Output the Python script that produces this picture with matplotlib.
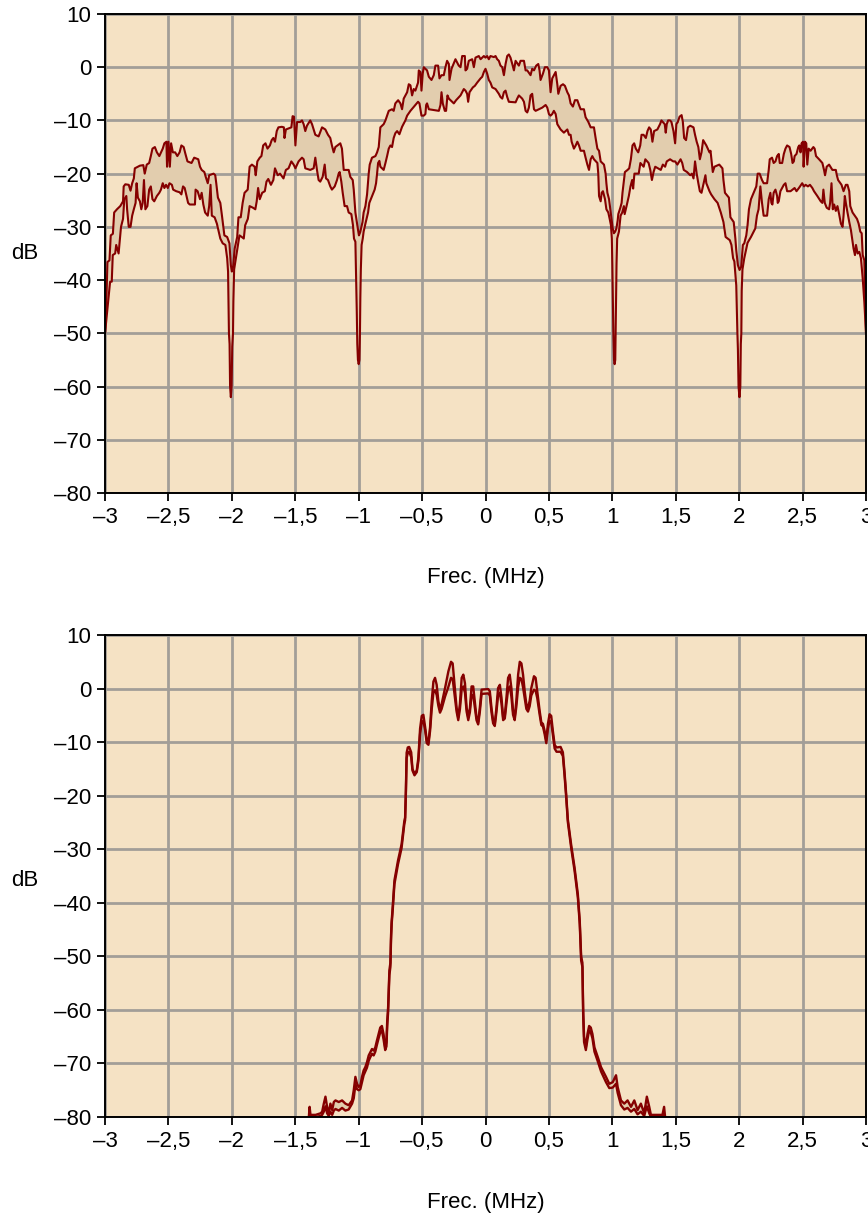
import matplotlib
matplotlib.use("Agg")
import matplotlib.pyplot as plt
import numpy as np

plt.rcParams["font.family"] = ["Liberation Sans", "DejaVu Sans"]

# ---- top panel: upper / lower envelope (MHz, dB) ----
top_upper = [
    (-3.000, -50.0), (-2.992, -46.0), (-2.981, -36.6), (-2.965, -36.3), (-2.955, -31.6),
    (-2.938, -31.3), (-2.928, -27.3), (-2.906, -26.7), (-2.880, -26.1), (-2.858, -25.2),
    (-2.853, -22.4), (-2.840, -22.0), (-2.813, -22.1), (-2.799, -23.2), (-2.786, -21.8),
    (-2.773, -20.9), (-2.765, -19.0), (-2.725, -18.5), (-2.698, -18.4), (-2.687, -20.0),
    (-2.671, -18.3), (-2.652, -18.0), (-2.639, -16.7), (-2.626, -15.3), (-2.607, -15.0),
    (-2.591, -16.0), (-2.572, -16.7), (-2.545, -15.3), (-2.532, -14.3), (-2.516, -14.0),
    (-2.511, -18.7), (-2.500, -14.0), (-2.489, -18.7), (-2.479, -14.3), (-2.465, -16.0),
    (-2.447, -16.0), (-2.430, -16.7), (-2.412, -16.0), (-2.398, -14.7), (-2.380, -15.0),
    (-2.366, -16.3), (-2.350, -17.7), (-2.318, -18.0), (-2.297, -17.0), (-2.265, -17.3),
    (-2.251, -18.7), (-2.238, -19.3), (-2.217, -19.7), (-2.206, -20.6), (-2.190, -21.8),
    (-2.179, -20.3), (-2.144, -20.0), (-2.131, -20.3), (-2.123, -21.8), (-2.110, -24.5),
    (-2.091, -25.5), (-2.078, -27.9), (-2.059, -31.6), (-2.037, -31.9), (-2.019, -33.1),
    (-2.008, -37.2), (-2.000, -38.4), (-1.990, -37.5), (-1.978, -34.1), (-1.958, -31.9),
    (-1.948, -28.2), (-1.930, -28.2), (-1.915, -25.5), (-1.900, -23.6), (-1.875, -23.0),
    (-1.860, -18.7), (-1.842, -18.3), (-1.820, -18.7), (-1.812, -20.3), (-1.799, -17.7),
    (-1.780, -17.0), (-1.767, -16.7), (-1.753, -14.7), (-1.735, -14.3), (-1.719, -15.3),
    (-1.700, -14.7), (-1.686, -13.7), (-1.673, -13.3), (-1.660, -14.0), (-1.646, -12.0),
    (-1.633, -11.3), (-1.606, -11.2), (-1.590, -11.3), (-1.585, -13.3), (-1.574, -11.7),
    (-1.531, -11.3), (-1.521, -9.2), (-1.510, -9.3), (-1.499, -14.7), (-1.486, -10.3),
    (-1.461, -10.3), (-1.447, -10.0), (-1.434, -10.7), (-1.421, -12.0), (-1.408, -11.0),
    (-1.382, -10.0), (-1.368, -10.7), (-1.355, -11.7), (-1.342, -12.7), (-1.316, -13.0),
    (-1.289, -11.3), (-1.263, -11.7), (-1.242, -12.7), (-1.224, -13.3), (-1.211, -14.7),
    (-1.197, -16.0), (-1.184, -15.0), (-1.145, -14.3), (-1.132, -15.3), (-1.118, -19.3),
    (-1.079, -19.3), (-1.066, -20.6), (-1.047, -21.2), (-1.039, -23.0), (-1.026, -27.3),
    (-1.013, -29.4), (-1.005, -30.6), (-0.998, -31.6), (-0.988, -31.0), (-0.970, -29.1),
    (-0.961, -27.3), (-0.947, -26.1), (-0.934, -23.9), (-0.921, -20.0), (-0.913, -18.3),
    (-0.895, -17.0), (-0.868, -16.7), (-0.855, -16.0), (-0.842, -15.0), (-0.829, -11.3),
    (-0.803, -10.7), (-0.789, -10.0), (-0.776, -9.1), (-0.763, -8.2), (-0.737, -7.9),
    (-0.724, -8.2), (-0.711, -6.8), (-0.689, -6.2), (-0.671, -6.8), (-0.658, -7.9),
    (-0.645, -5.9), (-0.618, -4.7), (-0.605, -3.2), (-0.592, -3.4), (-0.579, -5.3),
    (-0.566, -4.1), (-0.553, -4.4), (-0.532, -2.9), (-0.526, -0.6), (-0.513, -0.9),
    (-0.505, -4.4), (-0.495, -1.2), (-0.487, 0.0), (-0.461, -0.6), (-0.447, -1.8),
    (-0.426, -2.4), (-0.408, -1.5), (-0.395, 0.3), (-0.374, 0.3), (-0.363, -2.1),
    (-0.347, -1.5), (-0.329, -1.5), (-0.316, 0.0), (-0.303, 1.2), (-0.289, 0.6),
    (-0.284, -2.4), (-0.268, -0.3), (-0.237, 1.5), (-0.211, 0.3), (-0.197, 0.0),
    (-0.184, 2.1), (-0.163, 2.1), (-0.158, -0.6), (-0.145, -0.3), (-0.132, 1.2),
    (-0.105, 1.5), (-0.092, 0.0), (-0.079, 1.8), (-0.053, 2.1), (-0.039, 1.5),
    (-0.026, 1.8), (-0.013, 2.1), (0.000, 1.8), (0.013, 2.1), (0.026, 1.5),
    (0.039, 2.1), (0.066, 1.9), (0.079, 2.1), (0.092, 1.5), (0.105, 1.2),
    (0.118, 0.3), (0.132, 0.0), (0.145, -1.5), (0.158, 0.6), (0.171, 2.1),
    (0.184, 2.4), (0.197, 1.8), (0.211, 0.6), (0.224, -0.6), (0.237, 1.2),
    (0.263, 0.3), (0.276, 1.2), (0.303, 1.2), (0.316, -0.6), (0.329, -0.6),
    (0.355, -1.5), (0.368, -0.3), (0.382, -0.6), (0.400, 0.3), (0.416, 0.6),
    (0.426, -0.6), (0.434, -2.4), (0.453, -1.2), (0.468, 0.0), (0.487, 0.0),
    (0.500, -0.6), (0.513, -4.7), (0.526, -2.1), (0.553, -0.9), (0.566, -3.2),
    (0.574, -5.0), (0.592, -3.5), (0.611, -3.2), (0.626, -3.5), (0.645, -4.7),
    (0.658, -5.3), (0.671, -6.8), (0.689, -7.4), (0.705, -6.2), (0.724, -6.2),
    (0.737, -7.1), (0.750, -7.9), (0.776, -7.9), (0.789, -9.4), (0.811, -10.3),
    (0.829, -11.3), (0.855, -11.3), (0.868, -13.3), (0.882, -15.3), (0.895, -15.7),
    (0.908, -17.7), (0.934, -18.3), (0.947, -20.0), (0.953, -21.8), (0.961, -23.6),
    (0.974, -24.8), (0.987, -27.3), (0.995, -28.8), (1.003, -30.3), (1.012, -31.2),
    (1.022, -30.9), (1.032, -30.3), (1.042, -28.8), (1.047, -27.6), (1.063, -26.4),
    (1.073, -25.5), (1.080, -23.6), (1.099, -19.7), (1.120, -19.3), (1.133, -19.0),
    (1.146, -17.3), (1.159, -14.7), (1.172, -14.3), (1.185, -15.3), (1.204, -16.0),
    (1.220, -14.7), (1.230, -12.7), (1.246, -12.7), (1.264, -13.3), (1.277, -12.0),
    (1.290, -11.3), (1.303, -11.7), (1.316, -14.0), (1.329, -12.0), (1.355, -11.7),
    (1.376, -10.7), (1.387, -10.0), (1.413, -10.7), (1.421, -12.3), (1.429, -10.7),
    (1.440, -10.0), (1.455, -10.0), (1.466, -10.3), (1.482, -12.0), (1.495, -14.3),
    (1.505, -10.7), (1.516, -10.3), (1.530, -9.3), (1.546, -9.0), (1.556, -10.3),
    (1.566, -13.3), (1.581, -13.7), (1.596, -11.3), (1.614, -11.0), (1.640, -11.3),
    (1.652, -12.7), (1.665, -14.0), (1.678, -15.0), (1.690, -17.3), (1.703, -16.0),
    (1.716, -13.7), (1.741, -14.7), (1.766, -16.0), (1.774, -15.7), (1.784, -18.0),
    (1.792, -19.7), (1.805, -18.7), (1.843, -18.3), (1.868, -19.0), (1.876, -21.2),
    (1.888, -23.6), (1.919, -24.5), (1.931, -28.2), (1.957, -29.1), (1.970, -32.2),
    (1.977, -34.4), (1.990, -37.2), (2.003, -38.1), (2.016, -37.5), (2.029, -33.4),
    (2.040, -33.1), (2.056, -31.6), (2.066, -29.7), (2.077, -26.7), (2.093, -24.8),
    (2.114, -23.6), (2.135, -22.4), (2.146, -20.0), (2.161, -20.0), (2.180, -21.2),
    (2.193, -21.8), (2.220, -21.8), (2.233, -19.3), (2.241, -17.3), (2.259, -17.0),
    (2.272, -18.0), (2.286, -17.7), (2.299, -16.7), (2.312, -16.3), (2.320, -18.0),
    (2.339, -18.0), (2.352, -16.3), (2.365, -15.3), (2.378, -14.7), (2.397, -15.0),
    (2.410, -16.3), (2.421, -18.0), (2.431, -17.7), (2.437, -16.7), (2.452, -16.3),
    (2.466, -15.0), (2.474, -14.7), (2.484, -16.0), (2.492, -14.3), (2.503, -14.0),
    (2.508, -18.7), (2.519, -14.0), (2.529, -14.3), (2.537, -18.3), (2.548, -15.3),
    (2.563, -15.7), (2.585, -15.0), (2.595, -15.3), (2.606, -16.7), (2.630, -17.3),
    (2.656, -18.0), (2.669, -19.3), (2.677, -20.3), (2.690, -18.7), (2.709, -18.3),
    (2.735, -19.3), (2.762, -19.3), (2.770, -20.3), (2.780, -21.2), (2.807, -22.1),
    (2.823, -23.3), (2.841, -22.1), (2.854, -22.1), (2.868, -23.3), (2.876, -26.1),
    (2.894, -27.3), (2.929, -28.5), (2.942, -29.4), (2.955, -30.9), (2.966, -31.2),
    (2.974, -35.3), (2.987, -36.3), (3.000, -50.0),
]

top_lower = [
    (-3.000, -50.0), (-2.960, -40.3), (-2.947, -40.3), (-2.939, -35.3), (-2.920, -35.0),
    (-2.912, -33.4), (-2.893, -35.0), (-2.874, -30.0), (-2.858, -28.5), (-2.848, -24.8),
    (-2.832, -24.2), (-2.826, -26.7), (-2.813, -30.0), (-2.799, -30.0), (-2.786, -27.9),
    (-2.773, -26.7), (-2.759, -25.5), (-2.751, -21.8), (-2.741, -24.5), (-2.725, -25.2),
    (-2.714, -26.7), (-2.703, -25.5), (-2.693, -21.2), (-2.682, -26.7), (-2.666, -26.1),
    (-2.652, -23.0), (-2.639, -22.4), (-2.626, -24.8), (-2.612, -25.2), (-2.591, -24.2),
    (-2.572, -23.6), (-2.559, -23.0), (-2.545, -21.8), (-2.532, -22.7), (-2.519, -22.1),
    (-2.505, -22.7), (-2.492, -21.8), (-2.473, -22.1), (-2.463, -23.0), (-2.439, -23.3),
    (-2.412, -23.5), (-2.398, -23.9), (-2.385, -22.4), (-2.372, -22.7), (-2.358, -24.2),
    (-2.345, -25.5), (-2.332, -25.8), (-2.291, -25.8), (-2.286, -23.0), (-2.270, -23.3),
    (-2.251, -24.8), (-2.238, -23.6), (-2.225, -25.8), (-2.211, -27.3), (-2.190, -27.9),
    (-2.179, -26.1), (-2.168, -22.1), (-2.158, -27.9), (-2.136, -28.2), (-2.118, -29.4),
    (-2.104, -30.9), (-2.091, -32.2), (-2.072, -33.1), (-2.051, -33.4), (-2.037, -35.9),
    (-2.030, -38.4), (-2.026, -45.0), (-2.023, -50.0), (-2.018, -52.0), (-2.014, -60.0),
    (-2.008, -62.0), (-2.002, -60.0), (-1.997, -52.5), (-1.991, -50.0), (-1.988, -44.0),
    (-1.982, -38.0), (-1.940, -31.6), (-1.922, -31.9), (-1.906, -32.2), (-1.895, -29.7),
    (-1.874, -28.5), (-1.860, -26.1), (-1.834, -26.4), (-1.815, -26.7), (-1.804, -25.2),
    (-1.793, -22.7), (-1.780, -24.8), (-1.761, -23.6), (-1.740, -23.3), (-1.727, -21.5),
    (-1.713, -21.0), (-1.692, -22.1), (-1.673, -21.2), (-1.660, -19.0), (-1.638, -20.3),
    (-1.620, -20.0), (-1.593, -20.9), (-1.574, -19.3), (-1.553, -19.0), (-1.531, -17.7),
    (-1.513, -18.3), (-1.499, -19.0), (-1.474, -17.7), (-1.447, -17.0), (-1.434, -17.3),
    (-1.421, -19.0), (-1.382, -19.3), (-1.355, -19.0), (-1.342, -17.0), (-1.329, -19.3),
    (-1.316, -21.2), (-1.303, -21.5), (-1.284, -20.6), (-1.268, -18.3), (-1.258, -20.9),
    (-1.242, -21.2), (-1.224, -22.4), (-1.211, -23.0), (-1.189, -22.4), (-1.171, -21.2),
    (-1.158, -20.0), (-1.150, -19.7), (-1.137, -21.5), (-1.126, -23.6), (-1.111, -26.1),
    (-1.092, -26.1), (-1.079, -27.3), (-1.058, -27.6), (-1.045, -29.7), (-1.037, -32.2),
    (-1.026, -32.8), (-1.021, -38.8), (-1.015, -46.0), (-1.011, -52.0), (-1.006, -55.0),
    (-1.000, -55.8), (-0.994, -55.0), (-0.990, -50.0), (-0.987, -43.4), (-0.983, -38.0),
    (-0.977, -33.4), (-0.968, -32.2), (-0.961, -30.9), (-0.947, -29.4), (-0.926, -27.3),
    (-0.916, -25.5), (-0.889, -23.9), (-0.874, -23.0), (-0.863, -21.8), (-0.855, -20.0),
    (-0.847, -18.0), (-0.837, -17.6), (-0.829, -18.7), (-0.803, -19.3), (-0.789, -18.0),
    (-0.776, -16.7), (-0.763, -15.3), (-0.750, -14.7), (-0.737, -15.0), (-0.724, -13.3),
    (-0.711, -12.4), (-0.697, -12.0), (-0.679, -12.6), (-0.658, -11.2), (-0.632, -10.0),
    (-0.618, -9.1), (-0.592, -8.2), (-0.553, -7.1), (-0.532, -6.5), (-0.521, -6.8),
    (-0.513, -7.9), (-0.505, -9.1), (-0.487, -9.1), (-0.474, -8.8), (-0.468, -7.1),
    (-0.461, -6.8), (-0.447, -7.9), (-0.368, -8.2), (-0.355, -7.1), (-0.347, -4.7),
    (-0.337, -6.8), (-0.321, -8.2), (-0.311, -8.2), (-0.300, -5.3), (-0.289, -5.9),
    (-0.250, -6.8), (-0.232, -6.2), (-0.197, -5.3), (-0.184, -4.7), (-0.171, -4.1),
    (-0.158, -4.4), (-0.145, -5.0), (-0.137, -6.5), (-0.126, -4.7), (-0.100, -3.8),
    (-0.084, -3.5), (-0.066, -2.9), (-0.039, -2.1), (-0.026, -1.8), (-0.013, -0.9),
    (0.000, -0.3), (0.013, -1.2), (0.026, -2.4), (0.039, -2.9), (0.053, -3.8),
    (0.079, -4.1), (0.105, -5.0), (0.118, -5.6), (0.132, -5.9), (0.145, -4.7),
    (0.158, -4.4), (0.171, -5.6), (0.184, -6.5), (0.237, -6.6), (0.250, -5.9),
    (0.263, -5.3), (0.289, -5.9), (0.303, -6.5), (0.316, -8.2), (0.329, -8.5),
    (0.342, -7.6), (0.355, -5.3), (0.368, -5.0), (0.382, -7.9), (0.395, -8.2),
    (0.447, -7.6), (0.474, -7.1), (0.487, -7.6), (0.500, -8.8), (0.513, -9.1),
    (0.526, -8.8), (0.539, -8.2), (0.553, -8.8), (0.566, -10.7), (0.592, -11.7),
    (0.618, -12.3), (0.645, -11.7), (0.658, -12.7), (0.671, -12.7), (0.679, -14.0),
    (0.697, -15.3), (0.711, -14.7), (0.724, -14.0), (0.737, -14.7), (0.750, -15.7),
    (0.776, -15.7), (0.789, -17.0), (0.803, -18.3), (0.816, -19.3), (0.829, -17.3),
    (0.842, -16.7), (0.855, -17.3), (0.882, -18.0), (0.889, -20.0), (0.895, -24.2),
    (0.908, -25.2), (0.916, -23.6), (0.926, -23.3), (0.942, -24.8), (0.953, -26.7),
    (0.968, -27.3), (0.979, -28.5), (0.989, -29.7), (0.996, -32.2), (1.000, -37.2),
    (1.004, -44.0), (1.008, -50.0), (1.013, -55.0), (1.018, -55.8), (1.023, -55.0),
    (1.027, -48.0), (1.030, -42.0), (1.033, -37.0), (1.038, -32.2), (1.052, -30.9),
    (1.065, -27.9), (1.078, -27.3), (1.091, -26.1), (1.097, -27.6), (1.112, -26.1),
    (1.130, -24.2), (1.143, -22.4), (1.156, -21.2), (1.164, -22.8), (1.174, -20.0),
    (1.208, -20.0), (1.221, -18.0), (1.247, -18.7), (1.260, -17.3), (1.286, -18.0),
    (1.299, -19.3), (1.312, -21.2), (1.325, -19.7), (1.338, -18.7), (1.382, -19.3),
    (1.398, -18.3), (1.416, -18.7), (1.429, -17.7), (1.455, -17.3), (1.480, -17.7),
    (1.495, -17.7), (1.513, -18.3), (1.538, -17.3), (1.551, -18.0), (1.563, -19.3),
    (1.589, -19.7), (1.614, -20.3), (1.627, -20.0), (1.640, -20.9), (1.652, -17.7),
    (1.665, -20.0), (1.678, -21.8), (1.690, -23.3), (1.703, -23.6), (1.723, -21.5),
    (1.734, -20.3), (1.741, -21.8), (1.766, -23.3), (1.779, -23.9), (1.805, -24.8),
    (1.830, -25.5), (1.855, -27.3), (1.876, -29.1), (1.893, -31.9), (1.926, -32.5),
    (1.939, -33.4), (1.952, -35.9), (1.962, -36.5), (1.977, -41.0), (1.982, -46.0),
    (1.986, -50.0), (1.990, -53.0), (1.995, -60.0), (2.002, -62.0), (2.009, -60.0),
    (2.013, -52.0), (2.017, -50.0), (2.020, -42.0), (2.026, -38.0), (2.040, -35.9),
    (2.066, -33.0), (2.093, -31.9), (2.127, -30.3), (2.140, -27.9), (2.153, -26.7),
    (2.167, -22.4), (2.180, -25.5), (2.193, -27.9), (2.220, -27.9), (2.233, -24.8),
    (2.246, -23.6), (2.254, -25.5), (2.262, -25.8), (2.272, -23.6), (2.286, -23.0),
    (2.299, -24.2), (2.304, -25.5), (2.312, -25.2), (2.325, -23.3), (2.352, -22.1),
    (2.365, -21.8), (2.378, -23.3), (2.405, -23.3), (2.437, -22.7), (2.452, -23.3),
    (2.471, -22.7), (2.497, -21.8), (2.511, -22.4), (2.524, -22.1), (2.542, -22.4),
    (2.558, -22.1), (2.577, -22.7), (2.590, -23.3), (2.616, -24.2), (2.643, -25.2),
    (2.656, -25.5), (2.664, -23.0), (2.675, -25.5), (2.690, -26.4), (2.709, -26.7),
    (2.717, -25.5), (2.728, -21.8), (2.738, -26.7), (2.749, -25.8), (2.762, -27.0),
    (2.775, -26.1), (2.788, -27.6), (2.802, -29.4), (2.815, -30.0), (2.823, -27.9),
    (2.833, -24.2), (2.841, -25.5), (2.854, -27.3), (2.868, -29.1), (2.881, -30.6),
    (2.894, -32.8), (2.902, -34.1), (2.913, -35.3), (2.921, -33.4), (2.934, -35.0),
    (2.947, -34.7), (2.960, -35.9), (2.974, -39.7), (2.987, -44.2), (3.000, -50.0),
]

# ---- bottom panel: frequency, outer and inner trace (dB) ----
bot_freq = [
    -1.393, -1.387, -1.380, -1.340, -1.300, -1.288, -1.275, -1.262, -1.249, -1.236,
    -1.223, -1.209, -1.196, -1.183, -1.157, -1.131, -1.105, -1.079, -1.052, -1.039,
    -1.026, -1.013, -1.000, -0.987, -0.974, -0.961, -0.948, -0.935, -0.921, -0.908,
    -0.895, -0.882, -0.869, -0.856, -0.843, -0.830, -0.817, -0.804, -0.791, -0.781,
    -0.775, -0.768, -0.758, -0.750, -0.745, -0.740, -0.732, -0.718, -0.690, -0.662,
    -0.640, -0.634, -0.628, -0.622, -0.613, -0.602, -0.586, -0.576, -0.560, -0.542,
    -0.529, -0.516, -0.503, -0.490, -0.476, -0.463, -0.450, -0.437, -0.424, -0.411,
    -0.398, -0.385, -0.372, -0.359, -0.346, -0.319, -0.293, -0.272, -0.259, -0.246,
    -0.228, -0.215, -0.202, -0.188, -0.175, -0.162, -0.149, -0.136, -0.123, -0.110,
    -0.097, -0.084, -0.071, -0.058, -0.045, -0.031, 0.021, 0.034, 0.047, 0.060,
    0.073, 0.086, 0.099, 0.113, 0.126, 0.139, 0.152, 0.165, 0.178, 0.191,
    0.204, 0.217, 0.230, 0.243, 0.257, 0.270, 0.283, 0.296, 0.309, 0.322,
    0.335, 0.348, 0.361, 0.382, 0.395, 0.408, 0.427, 0.440, 0.453, 0.466,
    0.479, 0.492, 0.505, 0.518, 0.531, 0.545, 0.560, 0.592, 0.610, 0.623,
    0.636, 0.649, 0.675, 0.702, 0.728, 0.743, 0.754, 0.764, 0.770, 0.777,
    0.791, 0.804, 0.817, 0.830, 0.843, 0.859, 0.885, 0.911, 0.950, 0.976,
    1.003, 1.029, 1.042, 1.068, 1.094, 1.120, 1.147, 1.173, 1.199, 1.225,
    1.251, 1.272, 1.291, 1.304, 1.395, 1.408, 1.416,
]
bot_outer = [
    -80.0, -78.1, -79.6, -79.6, -79.3, -79.0, -77.5, -76.2, -78.1, -79.3,
    -77.5, -78.7, -77.2, -76.9, -77.2, -76.9, -77.5, -77.8, -76.9, -75.0,
    -72.5, -73.8, -74.4, -74.1, -72.5, -71.3, -70.7, -69.8, -68.5, -67.9,
    -67.3, -67.6, -67.0, -65.7, -64.5, -63.3, -63.0, -64.5, -67.0, -66.0,
    -62.0, -59.5, -52.6, -51.2, -46.1, -43.4, -40.8, -35.8, -32.1, -29.1,
    -24.7, -24.1, -19.1, -12.0, -11.0, -10.9, -11.9, -15.0, -15.9, -15.3,
    -12.8, -7.5, -5.1, -4.9, -7.2, -9.7, -10.0, -7.2, -2.3, 1.3,
    2.0, 0.7, -2.3, -3.9, -2.9, 0.1, 3.2, 5.0, 4.7, 1.3,
    -3.6, -5.4, -2.9, 2.0, 2.6, 1.0, -3.6, -5.4, -3.6, 0.4,
    0.4, -2.6, -5.4, -6.3, -3.6, -0.2, -0.1, -0.5, -3.6, -6.0,
    -6.6, -3.6, 0.1, 0.7, -1.7, -5.4, -5.1, -1.7, 2.0, 2.6,
    0.1, -4.2, -5.4, -2.3, 2.6, 5.0, 4.7, 2.6, -0.5, -2.9,
    -3.6, -2.3, 0.1, 2.3, 2.0, -0.5, -4.2, -6.3, -6.6, -7.9,
    -9.7, -6.6, -4.8, -5.1, -7.9, -10.5, -11.0, -10.9, -11.9, -15.6,
    -19.7, -24.4, -29.1, -33.4, -38.4, -43.4, -50.0, -51.2, -60.0, -65.0,
    -67.0, -64.5, -63.0, -63.3, -64.5, -67.0, -68.8, -70.7, -72.5, -73.8,
    -73.5, -72.2, -74.4, -76.9, -77.5, -76.9, -78.1, -76.9, -78.7, -77.5,
    -79.3, -76.2, -78.1, -79.6, -79.6, -78.1, -80.0,
]
bot_inner = [
    -80.0, -79.8, -80.0, -80.0, -79.8, -79.6, -79.0, -78.0, -79.3, -79.8,
    -79.0, -79.6, -78.8, -78.5, -78.8, -78.3, -78.8, -78.6, -77.5, -76.5,
    -74.0, -74.8, -75.0, -74.8, -73.5, -72.2, -71.5, -70.8, -69.5, -68.8,
    -68.2, -68.5, -67.8, -66.5, -65.3, -64.2, -63.8, -65.5, -67.5, -66.8,
    -63.0, -60.5, -53.5, -52.0, -47.0, -44.0, -41.5, -36.5, -32.8, -29.8,
    -25.3, -24.6, -19.8, -13.0, -12.0, -11.8, -12.8, -15.3, -16.2, -15.6,
    -13.5, -8.5, -6.3, -6.0, -7.8, -10.2, -10.5, -7.9, -3.8, -0.8,
    -0.3, -1.2, -3.2, -4.5, -3.8, -1.5, 0.3, 2.0, 1.8, -0.8,
    -4.3, -5.9, -3.9, -0.2, 0.4, -0.8, -4.3, -5.9, -4.4, -1.2,
    -1.2, -3.5, -5.9, -6.7, -4.4, -1.0, -0.9, -1.3, -4.4, -6.5,
    -7.0, -4.4, -1.3, -0.8, -2.8, -5.9, -5.6, -2.8, -0.2, 0.4,
    -1.5, -4.9, -5.9, -3.4, 0.2, 2.0, 1.8, 0.2, -1.8, -3.8,
    -4.3, -3.3, -1.3, -0.2, -0.4, -1.8, -4.9, -6.8, -7.1, -8.5,
    -10.2, -7.5, -6.0, -6.2, -8.6, -11.2, -11.8, -11.8, -12.6, -16.2,
    -20.3, -24.9, -29.7, -34.0, -39.0, -44.0, -50.8, -52.0, -61.0, -66.0,
    -67.5, -65.5, -63.8, -64.2, -65.3, -67.8, -69.6, -71.5, -73.5, -74.6,
    -74.5, -73.8, -75.5, -77.8, -78.6, -78.3, -79.0, -78.5, -79.5, -79.0,
    -79.8, -78.0, -79.3, -80.0, -80.0, -79.8, -80.0,
]

x_ticks = [-3, -2.5, -2, -1.5, -1, -0.5, 0, 0.5, 1, 1.5, 2, 2.5, 3]
y_ticks = [10, 0, -10, -20, -30, -40, -50, -60, -70, -80]

BG = "#f5e2c4"
FILL = "#e2cdae"
LINE = "#850000"
GRID = "#a29e98"


def fmt(v):
    s = ("%g" % abs(v)).replace(".", ",")
    return ("\u2013" + s) if v < 0 else s


def style_axes(ax, label_y):
    ax.set_facecolor(BG)
    ax.set_xlim(-3, 3)
    ax.set_ylim(-80, 10)
    ax.set_xticks(x_ticks)
    ax.set_xticklabels([fmt(v) for v in x_ticks])
    ax.set_yticks(y_ticks)
    ax.set_yticklabels([fmt(v) for v in y_ticks])
    ax.grid(True, color=GRID, lw=2.0, zorder=0)
    ax.set_axisbelow(True)
    ax.tick_params(direction="out", length=6, width=1.3, labelsize=16,
                   colors="black", pad=4)
    for s in ax.spines.values():
        s.set_linewidth(1.4)
        s.set_color("black")
        s.set_zorder(5)
    ax.set_xlabel("Frec. (MHz)", fontsize=16)
    ax.xaxis.set_label_coords(0.5, -0.155)
    ax.set_ylabel("dB", fontsize=16, rotation=0, ha="center", va="center")
    ax.yaxis.set_label_coords(-0.105, label_y)


fig = plt.figure(figsize=(8.68, 12.16), dpi=100)
ax1 = fig.add_axes([0.1210, 0.5946, 0.8767, 0.3939])
ax2 = fig.add_axes([0.1210, 0.0814, 0.8767, 0.3964])

# top: envelope band
ux, uy = np.array(top_upper).T
lx, ly = np.array(top_lower).T
ax1.fill(np.concatenate([ux, lx[::-1]]), np.concatenate([uy, ly[::-1]]),
         color=FILL, lw=0, zorder=2)
ax1.plot(ux, uy, color=LINE, lw=1.5, zorder=3)
ax1.plot(lx, ly, color=LINE, lw=1.5, zorder=3)
style_axes(ax1, 0.5)

# bottom: filtered spectrum
bx = np.array(bot_freq)
bo = np.array(bot_outer)
bi = np.array(bot_inner)
ax2.fill(np.concatenate([bx, bx[::-1]]), np.concatenate([bo, bi[::-1]]),
         color=FILL, lw=0, zorder=2)
ax2.plot(bx, bo, color=LINE, lw=1.7, zorder=3)
ax2.plot(bx, bi, color=LINE, lw=1.7, zorder=3)
style_axes(ax2, 0.49)

fig.savefig("out.png", dpi=100)
